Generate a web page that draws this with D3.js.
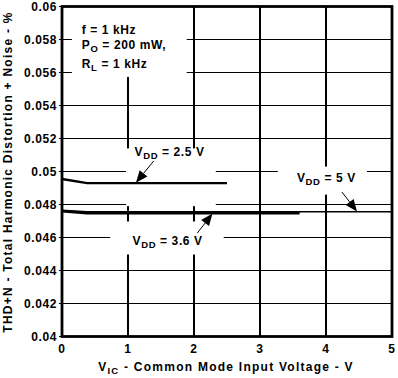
<html>
<head>
<meta charset="utf-8">
<title>THD+N vs VIC</title>
<style>
  body { margin: 0; background: white; }
  svg { display: block; background: white; font-family: "Liberation Sans", Arial, Helvetica, sans-serif; font-weight: bold; }
  .grid line { stroke: black; stroke-width: 1.3; shape-rendering: crispEdges; }
  .tick-label { font-size: 12px; letter-spacing: 0.6px; }
  .note { font-size: 12px; letter-spacing: 0.6px; }
  .title { font-size: 12px; letter-spacing: 1.25px; }
</style>
</head>
<body>
<div id="chart"></div>
<script src="https://cdnjs.cloudflare.com/ajax/libs/d3/7.8.5/d3.min.js"></script>
<script>
// data
var xTicks = [0, 1, 2, 3, 4, 5];
var yTicks = [0.04, 0.042, 0.044, 0.046, 0.048, 0.05, 0.052, 0.054, 0.056, 0.058, 0.06];
var yTickLabels = ["0.04", "0.042", "0.044", "0.046", "0.048", "0.05", "0.052", "0.054", "0.056", "0.058", "0.06"];

var vdd25 = [[0, 0.049545], [0.38, 0.04930], [2.5, 0.04930]];
var vdd36 = [[0, 0.04760], [0.38, 0.04748], [3.6, 0.04748]];
var vdd5  = [[0, 0.04765], [0.38, 0.04756], [5, 0.04756]];

var fullWidth = 398, fullHeight = 378;
var margin = {top: 6.5, right: 6, bottom: 41.5, left: 62};

var x = d3.scaleLinear().domain([0, 5]).range([margin.left, fullWidth - margin.right]);
var y = d3.scaleLinear().domain([0.04, 0.06]).range([fullHeight - margin.bottom, margin.top]);

var svg = d3.select("#chart").append("svg")
  .attr("width", fullWidth)
  .attr("height", fullHeight);

// grid
var grid = svg.append("g").attr("class", "grid");
grid.selectAll(".gx").data(xTicks).enter().append("line")
  .attr("x1", d => x(d)).attr("x2", d => x(d))
  .attr("y1", y(0.04)).attr("y2", y(0.06));
grid.selectAll(".gy").data(yTicks).enter().append("line")
  .attr("x1", x(0) - 3).attr("x2", x(5))
  .attr("y1", d => y(d)).attr("y2", d => y(d));

// white boxes behind labels (they break the grid)
function box(xa, xb, ya, yb) {
  svg.append("rect")
    .attr("x", x(xa)).attr("y", y(yb))
    .attr("width", x(xb) - x(xa)).attr("height", y(ya) - y(yb))
    .attr("fill", "white");
}
box(0.15, 1.89, 0.05573, 0.06);        // conditions
box(0.97, 2.33, 0.04790, 0.05140);     // 2.5 V
box(0.73, 2.45, 0.04497, 0.04697);     // 3.6 V
box(3.27, 4.62, 0.04860, 0.05030);     // 5 V

// frame
svg.append("rect")
  .attr("x", x(0)).attr("y", y(0.06))
  .attr("width", x(5) - x(0)).attr("height", y(0.04) - y(0.06))
  .attr("fill", "none").attr("stroke", "black").attr("stroke-width", 2.8);

// curves
var line = d3.line().x(d => x(d[0])).y(d => y(d[1]));
svg.append("path").datum(vdd25).attr("d", line)
  .attr("fill", "none").attr("stroke", "black").attr("stroke-width", 2.3);
svg.append("path").datum(vdd36).attr("d", line)
  .attr("fill", "none").attr("stroke", "black").attr("stroke-width", 2.6);
svg.append("path").datum(vdd5).attr("d", line)
  .attr("fill", "none").attr("stroke", "black").attr("stroke-width", 1.6);

// arrows: tail and tip in data units
function arrow(tail, tip) {
  var x0 = x(tail[0]), y0 = y(tail[1]), x1 = x(tip[0]), y1 = y(tip[1]);
  var a = Math.atan2(y1 - y0, x1 - x0), len = 12, half = 5;
  var bx = x1 - len * Math.cos(a), by = y1 - len * Math.sin(a);
  svg.append("line").attr("x1", x0).attr("y1", y0).attr("x2", bx).attr("y2", by)
    .attr("stroke", "black").attr("stroke-width", 1);
  var pts = [[x1, y1],
    [bx + half * Math.sin(a), by - half * Math.cos(a)],
    [bx - half * Math.sin(a), by + half * Math.cos(a)]];
  svg.append("path").attr("d", "M" + pts.join("L") + "Z").attr("fill", "black");
}
arrow([1.39, 0.05064], [1.12, 0.04932]);
arrow([2.05, 0.04627], [2.28, 0.04745]);
arrow([4.24, 0.04876], [4.47, 0.04758]);

// labels with subscripts
function label(px, py, main, sub, rest) {
  var t = svg.append("text").attr("class", "note").attr("x", x(px)).attr("y", y(py));
  t.append("tspan").text(main);
  if (sub) {
    t.append("tspan").attr("dy", 3).attr("font-size", "9.5px").text(sub);
    t.append("tspan").attr("dy", -3).text(rest);
  }
  return t;
}
label(0.30, 0.05836, "f = 1 kHz");
label(0.30, 0.05745, "P", "O", " = 200 mW,");
label(0.30, 0.05630, "R", "L", " = 1 kHz");
label(1.10, 0.05093, "V", "DD", " = 2.5 V");
label(1.07, 0.04555, "V", "DD", " = 3.6 V");
label(3.56, 0.04936, "V", "DD", " = 5 V");

// tick labels
svg.selectAll(".ylab").data(yTicks).enter().append("text")
  .attr("class", "tick-label")
  .attr("x", x(0) - 5).attr("y", d => y(d) + 4.5)
  .attr("text-anchor", "end")
  .text((d, i) => yTickLabels[i]);
svg.selectAll(".xlab").data(xTicks).enter().append("text")
  .attr("class", "tick-label")
  .attr("x", d => x(d)).attr("y", y(0.04) + 16)
  .attr("text-anchor", "middle")
  .text(d => d);

// axis titles
var xt = svg.append("text").attr("class", "title")
  .attr("x", 226).attr("y", 371).attr("text-anchor", "middle");
xt.append("tspan").text("V");
xt.append("tspan").attr("dy", 3).attr("font-size", "9.5px").text("IC");
xt.append("tspan").attr("dy", -3).text(" - Common Mode Input Voltage - V");

svg.append("text").attr("class", "title")
  .attr("transform", "translate(12," + 172 + ") rotate(-90)")
  .attr("text-anchor", "middle")
  .text("THD+N - Total Harmonic Distortion + Noise - %");
</script>
</body>
</html>
